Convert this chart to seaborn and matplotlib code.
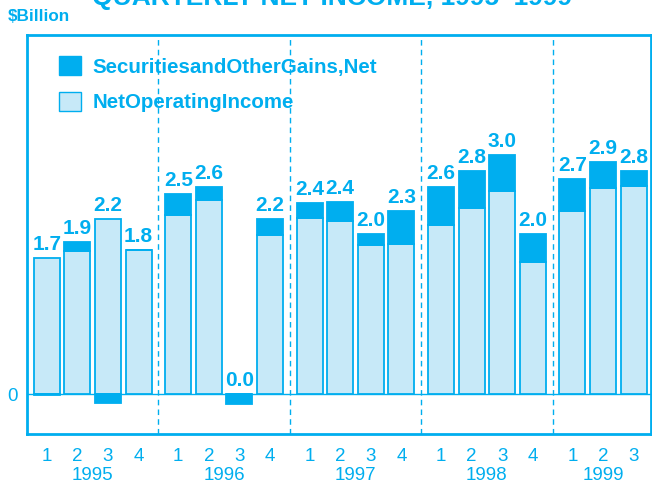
import matplotlib
matplotlib.use("Agg")
import matplotlib.pyplot as plt
import matplotlib.transforms as mtransforms
from matplotlib.patches import Patch
import numpy as np
import seaborn as sns

years = [1995] * 4 + [1996] * 4 + [1997] * 4 + [1998] * 4 + [1999] * 3
quarters = [1, 2, 3, 4] * 4 + [1, 2, 3]
operating = [1.71, 1.79, 2.20, 1.81,
             2.24, 2.43, 0.00, 1.99,
             2.21, 2.17, 1.87, 1.88,
             2.12, 2.33, 2.55, 1.66,
             2.29, 2.58, 2.61]
securities = [-0.01, 0.12, -0.11, 0.00,
              0.27, 0.16, -0.12, 0.20,
              0.19, 0.24, 0.13, 0.42,
              0.47, 0.47, 0.44, 0.34,
              0.41, 0.33, 0.19]
total_labels = ["1.7", "1.9", "2.2", "1.8",
                "2.5", "2.6", "0.0", "2.2",
                "2.4", "2.4", "2.0", "2.3",
                "2.6", "2.8", "3.0", "2.0",
                "2.7", "2.9", "2.8"]

BLUE = "#00aeef"
LIGHT = "#c7e9f8"

sns.set_style("white")
plt.rcParams["font.family"] = ["Liberation Sans", "DejaVu Sans"]

# bar positions: one unit per quarter, extra gap between years
pos = np.arange(len(years)) + 0.3 * (np.array(years) - years[0])
op = np.array(operating)
sec = np.array(securities)
sec_bottom = np.where(sec >= 0, op, 0.0)

fig = plt.figure(figsize=(6.52, 4.84), dpi=100)
ax = fig.add_axes([27 / 652, 50 / 484, 624 / 652, 399 / 484])

sns.barplot(x=pos, y=op, native_scale=True, width=0.85, color=LIGHT,
            saturation=1, edgecolor=BLUE, linewidth=1.3, errorbar=None, ax=ax)
sns.barplot(x=pos, y=sec, bottom=sec_bottom, native_scale=True, width=0.85,
            color=BLUE, saturation=1, edgecolor=BLUE, linewidth=1.3,
            errorbar=None, ax=ax)

ax.axhline(0, color=BLUE, lw=1, zorder=0.5)

# value labels above each bar
tops = np.maximum(op, op + sec)
for x, t, lab in zip(pos, tops, total_labels):
    ax.annotate(lab, (x, max(t, 0)), xytext=(0, 4), textcoords="offset pixels",
                ha="center", va="bottom", color=BLUE, fontsize=15,
                fontweight="bold")

# year dividers
yrs = sorted(set(years))
for y0, y1 in zip(yrs[:-1], yrs[1:]):
    last = pos[np.array(years) == y0].max()
    first = pos[np.array(years) == y1].min()
    ax.axvline((last + first) / 2, color=BLUE, lw=1, ls=(0, (4, 3)), zorder=0)

ax.set_xlim(pos[0] - 0.65, pos[-1] + 0.57)
ax.set_ylim(-0.5, 4.5)
ax.set_xticks(pos)
ax.set_xticklabels([str(q) for q in quarters])
ax.set_yticks([0])
ax.set_yticklabels(["0"])
ax.tick_params(axis="both", length=0, colors=BLUE, labelsize=13.5)
ax.tick_params(axis="x", pad=10)
ax.tick_params(axis="y", pad=7)
ax.set_xlabel("")
ax.set_ylabel("")
for s in ax.spines.values():
    s.set_color(BLUE)
    s.set_linewidth(2)

trans = mtransforms.blended_transform_factory(ax.transData, fig.transFigure)
for yr in yrs:
    xs = pos[np.array(years) == yr]
    fig.text(xs.mean(), 8 / 484, str(yr), transform=trans, ha="center",
             va="center", color=BLUE, fontsize=13.5)

handles = [Patch(facecolor=BLUE, edgecolor=BLUE),
           Patch(facecolor=LIGHT, edgecolor=BLUE)]
leg = ax.legend(handles, ["SecuritiesandOtherGains,Net", "NetOperatingIncome"],
                loc="upper left", bbox_to_anchor=(32 / 624, 378 / 399),
                frameon=False, borderpad=0, borderaxespad=0,
                handlelength=1.08, handleheight=1.08, handletextpad=0.55,
                labelspacing=0.72, prop={"weight": "bold", "size": 14.8})
for t in leg.get_texts():
    t.set_color(BLUE)

fig.text(8 / 652, (484 - 21) / 484, "$Billion", color=BLUE, fontsize=12.3,
         fontweight="bold", ha="left", va="baseline")
fig.text(332 / 652, (484 - 5) / 484, "QUARTERLY NET INCOME, 1995\u20131999",
         color=BLUE, fontsize=19, fontweight="bold", ha="center", va="baseline")

fig.savefig("out.png", dpi=100)
